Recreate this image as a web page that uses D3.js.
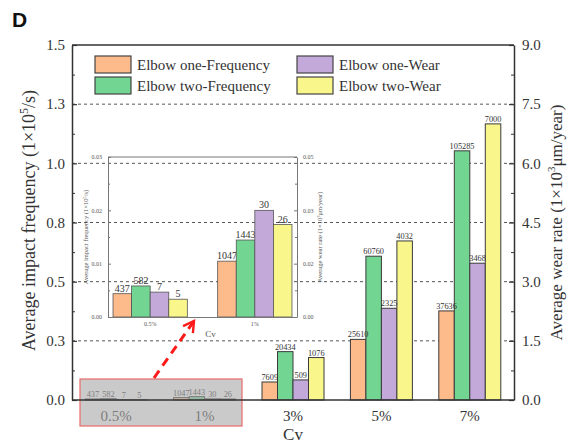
<!DOCTYPE html>
<html>
<head>
<meta charset="utf-8">
<script src="https://cdn.jsdelivr.net/npm/d3@7"></script>
<style>
  html, body { margin: 0; padding: 0; background: #fff; }
  svg { display: block; font-family: "Liberation Serif", "Times New Roman", serif; }
</style>
</head>
<body>
<svg id="chart" width="569" height="443"></svg>
<script>
// Cv categories and series (frequency in counts/s, wear rate in μm/year)
const categories = ["0.5%", "1%", "3%", "5%", "7%"];
const seriesNames = ["Elbow one-Frequency", "Elbow two-Frequency", "Elbow one-Wear", "Elbow two-Wear"];
const seriesColors = ["#fdbb8c", "#72d592", "#c2a9da", "#f9f78c"];
const elbowOneFrequency = [437, 1047, 7609, 25610, 37636];
const elbowTwoFrequency = [582, 1443, 20434, 60760, 105285];
const elbowOneWear = [7, 30, 509, 2325, 3468];
const elbowTwoWear = [5, 26, 1076, 4032, 7000];

// Axis ticks
const leftTicks = [0, 0.25, 0.5, 0.75, 1.0, 1.25, 1.5];
const leftTickLabels = ["0.0", "0.3", "0.5", "0.8", "1.0", "1.3", "1.5"];
const rightTicks = [0, 1.5, 3, 4.5, 6, 7.5, 9];
const rightTickLabels = ["0.0", "1.5", "3.0", "4.5", "6.0", "7.5", "9.0"];
const insetLeftTicks = [0, 0.01, 0.02, 0.03];
const insetLeftTickLabels = ["0.00", "0.01", "0.02", "0.03"];
const insetRightTicks = [0, 0.015, 0.03, 0.045];
const insetRightTickLabels = ["0.00", "0.02", "0.03", "0.05"];
const insetCategories = categories.slice(0, 2);

// Each series: values, which axis it uses, and the unit divisor
const series = [
  { name: seriesNames[0], values: elbowOneFrequency, axis: "freq", color: seriesColors[0] },
  { name: seriesNames[1], values: elbowTwoFrequency, axis: "freq", color: seriesColors[1] },
  { name: seriesNames[2], values: elbowOneWear, axis: "wear", color: seriesColors[2] },
  { name: seriesNames[3], values: elbowTwoWear, axis: "wear", color: seriesColors[3] }
];

const svg = d3.select("#chart");
const L = 72, R = 514, T = 45, B = 400;
const axisColor = "#333";

const x = d3.scaleBand().domain(categories).range([L, R]).padding(0);
const xInner = d3.scaleBand().domain(seriesNames).range([-31, 31]).padding(0);
const yF = d3.scaleLinear().domain([0, 1.5]).range([B, T]);
const yW = d3.scaleLinear().domain([0, 9]).range([B, T]);
const yOf = s => s.axis === "freq" ? (v => yF(v / 1e5)) : (v => yW(v / 1e3));

// Dashed grid lines
svg.append("g").selectAll("line")
  .data(leftTicks.slice(1, -1))
  .join("line")
  .attr("x1", L).attr("x2", R)
  .attr("y1", d => yF(d)).attr("y2", d => yF(d))
  .attr("stroke", "#555").attr("stroke-width", 1)
  .attr("stroke-dasharray", "3,3");

// Bars
const barG = svg.append("g");
series.forEach(s => {
  const yS = yOf(s);
  barG.append("g").selectAll("rect")
    .data(s.values.map((v, i) => ({ v, c: categories[i] })))
    .join("rect")
    .attr("x", d => x(d.c) + x.bandwidth() / 2 + xInner(s.name))
    .attr("width", xInner.bandwidth())
    .attr("y", d => yS(d.v))
    .attr("height", d => B - yS(d.v))
    .attr("fill", s.color)
    .attr("stroke", "#3a3a3a").attr("stroke-width", 1);
});

// Value labels
series.forEach(s => {
  const yS = yOf(s);
  barG.append("g").selectAll("text")
    .data(s.values.map((v, i) => ({ v, c: categories[i] })))
    .join("text")
    .attr("x", d => x(d.c) + x.bandwidth() / 2 + xInner(s.name) + xInner.bandwidth() / 2)
    .attr("y", d => yS(d.v) - 2)
    .attr("text-anchor", "middle")
    .attr("font-size", 8.3)
    .attr("fill", "#333")
    .text(d => d.v);
});

// Bottom axis labels and title
const xAxis = svg.append("g").attr("transform", `translate(0,${B})`)
  .call(d3.axisBottom(x).tickSize(0).tickPadding(10));
xAxis.select(".domain").remove();
xAxis.selectAll("text").attr("font-size", 15).attr("fill", "#333")
  .attr("font-family", "Liberation Serif, serif");

svg.append("text").attr("x", (L + R) / 2).attr("y", 440)
  .attr("text-anchor", "middle").attr("font-size", 17).attr("fill", "#333")
  .text("Cv");

// Highlight box around the small categories
svg.append("rect")
  .attr("x", 80).attr("y", 379).attr("width", 162).attr("height", 47)
  .attr("fill", "#a9a9a9").attr("fill-opacity", 0.62)
  .attr("stroke", "#e86a6a").attr("stroke-width", 1.2);

// Left axis
const leftAxis = svg.append("g").attr("transform", `translate(${L},0)`)
  .call(d3.axisLeft(yF).tickValues(leftTicks).tickFormat((d, i) => leftTickLabels[i])
    .tickSizeInner(-5).tickSizeOuter(0).tickPadding(7));
leftAxis.select(".domain").attr("stroke", axisColor).attr("stroke-width", 1.5);
leftAxis.selectAll(".tick line").attr("stroke", axisColor).attr("stroke-width", 1.2);
leftAxis.selectAll("text").attr("font-size", 15).attr("fill", "#333")
  .attr("font-family", "Liberation Serif, serif");
svg.append("g").attr("transform", `translate(${L},0)`)
  .call(d3.axisLeft(yF).tickValues(d3.range(0.125, 1.5, 0.25)).tickFormat("").tickSizeInner(-3).tickSizeOuter(0))
  .call(g => g.select(".domain").remove())
  .selectAll("line").attr("stroke", axisColor);

// Right axis
const rightAxis = svg.append("g").attr("transform", `translate(${R},0)`)
  .call(d3.axisRight(yW).tickValues(rightTicks).tickFormat((d, i) => rightTickLabels[i])
    .tickSizeInner(-5).tickSizeOuter(0).tickPadding(8));
rightAxis.select(".domain").attr("stroke", axisColor).attr("stroke-width", 1.5);
rightAxis.selectAll(".tick line").attr("stroke", axisColor).attr("stroke-width", 1.2);
rightAxis.selectAll("text").attr("font-size", 15).attr("fill", "#333")
  .attr("font-family", "Liberation Serif, serif");
svg.append("g").attr("transform", `translate(${R},0)`)
  .call(d3.axisRight(yW).tickValues(d3.range(0.75, 9, 1.5)).tickFormat("").tickSizeInner(-3).tickSizeOuter(0))
  .call(g => g.select(".domain").remove())
  .selectAll("line").attr("stroke", axisColor);

// Top and bottom frame lines
svg.append("line").attr("x1", L).attr("x2", R).attr("y1", T).attr("y2", T)
  .attr("stroke", axisColor).attr("stroke-width", 1.5);
svg.append("line").attr("x1", L).attr("x2", R).attr("y1", B).attr("y2", B)
  .attr("stroke", axisColor).attr("stroke-width", 1.5);

// Axis titles
svg.append("text")
  .attr("transform", `translate(35,${(T + B) / 2 - 2}) rotate(-90)`)
  .attr("text-anchor", "middle").attr("font-size", 18).attr("fill", "#333")
  .html('Average impact frequency (1×10<tspan dy="-7" font-size="12">5</tspan><tspan dy="7">/s)</tspan>');
svg.append("text")
  .attr("transform", `translate(562,${(T + B) / 2}) rotate(-90)`)
  .attr("text-anchor", "middle").attr("font-size", 17).attr("fill", "#333")
  .html('Average wear rate (1×10<tspan dy="-7" font-size="11">3</tspan><tspan dy="7">μm/year)</tspan>');

// Panel letter
svg.append("text").attr("x", 12).attr("y", 27)
  .attr("font-family", "Liberation Sans, Arial, sans-serif")
  .attr("font-weight", "bold").attr("font-size", 21).attr("fill", "#111")
  .text("D");

// Legend
const legendItems = seriesNames.map((n, i) => ({
  name: n, color: seriesColors[i],
  col: i < 2 ? 0 : 1, row: i % 2
}));
const legend = svg.append("g");
const lg = legend.selectAll("g").data(legendItems).join("g")
  .attr("transform", d => `translate(${d.col ? 297 : 95},${d.row ? 77 : 56})`);
lg.append("rect").attr("width", 36).attr("height", 17)
  .attr("fill", d => d.color).attr("stroke", "#444").attr("stroke-width", 1.2);
lg.append("text").attr("x", 42).attr("y", 14)
  .attr("font-size", 15).attr("fill", "#333")
  .text(d => d.name);

// Inset: zoom on the 0.5% and 1% groups
const iL = 108, iR = 297, iT = 157, iB = 317;
const xi = d3.scaleBand().domain(insetCategories).range([iL, iR]).paddingInner(0.29).paddingOuter(0.048);
const xiInner = d3.scaleBand().domain(seriesNames).range([0, xi.bandwidth()]).padding(0);
const yFi = d3.scaleLinear().domain([0, 0.03]).range([iB, iT]);
const yWi = d3.scaleLinear().domain([0, 0.045]).range([iB, iT]);
const yOfInset = s => s.axis === "freq" ? (v => yFi(v / 1e5)) : (v => yWi(v / 1e3));
const inset = svg.append("g");
const insetColor = "#777";

series.forEach(s => {
  const yS = yOfInset(s);
  const d = s.values.slice(0, 2).map((v, i) => ({ v, c: insetCategories[i] }));
  inset.append("g").selectAll("rect").data(d).join("rect")
    .attr("x", e => xi(e.c) + xiInner(s.name))
    .attr("width", xiInner.bandwidth())
    .attr("y", e => yS(e.v))
    .attr("height", e => iB - yS(e.v))
    .attr("fill", s.color).attr("stroke", "#555").attr("stroke-width", 0.8);
  inset.append("g").selectAll("text").data(d).join("text")
    .attr("x", e => xi(e.c) + xiInner(s.name) + xiInner.bandwidth() / 2)
    .attr("y", e => yS(e.v) - 2)
    .attr("text-anchor", "middle").attr("font-size", 10).attr("fill", "#333")
    .text(e => e.v);
});

const iLeft = inset.append("g").attr("transform", `translate(${iL},0)`)
  .call(d3.axisLeft(yFi).tickValues(insetLeftTicks).tickFormat((d, i) => insetLeftTickLabels[i])
    .tickSizeInner(-3).tickSizeOuter(0).tickPadding(6));
const iRight = inset.append("g").attr("transform", `translate(${iR},0)`)
  .call(d3.axisRight(yWi).tickValues(insetRightTicks).tickFormat((d, i) => insetRightTickLabels[i])
    .tickSizeInner(-3).tickSizeOuter(0).tickPadding(6));
const iBottom = inset.append("g").attr("transform", `translate(0,${iB})`)
  .call(d3.axisBottom(xi).tickSize(0).tickPadding(5));
[iLeft, iRight, iBottom].forEach(g => {
  g.select(".domain").attr("stroke", insetColor).attr("stroke-width", 1);
  g.selectAll(".tick line").attr("stroke", insetColor);
  g.selectAll("text").attr("font-size", 6).attr("fill", "#555")
    .attr("font-family", "Liberation Serif, serif");
});
inset.append("g").attr("transform", `translate(${iL},0)`)
  .call(d3.axisLeft(yFi).tickValues([0.005, 0.015, 0.025]).tickFormat("").tickSizeInner(-2).tickSizeOuter(0))
  .call(g => g.select(".domain").remove())
  .selectAll("line").attr("stroke", insetColor);
inset.append("g").attr("transform", `translate(${iR},0)`)
  .call(d3.axisRight(yWi).tickValues([0.0075, 0.0225, 0.0375]).tickFormat("").tickSizeInner(-2).tickSizeOuter(0))
  .call(g => g.select(".domain").remove())
  .selectAll("line").attr("stroke", insetColor);
inset.append("line").attr("x1", iL).attr("x2", iR).attr("y1", iT).attr("y2", iT)
  .attr("stroke", insetColor).attr("stroke-width", 1);

inset.append("text").attr("x", (iL + iR) / 2 + 8).attr("y", 337)
  .attr("text-anchor", "middle").attr("font-size", 9).attr("fill", "#555").text("Cv");
inset.append("text")
  .attr("transform", `translate(88,${(iT + iB) / 2}) rotate(-90)`)
  .attr("text-anchor", "middle").attr("font-size", 6.5).attr("fill", "#555")
  .html('Average impact frequency (1×10<tspan dy="-2" font-size="4.5">5</tspan><tspan dy="2">/s)</tspan>');
inset.append("text")
  .attr("transform", `translate(322,${(iT + iB) / 2}) rotate(-90)`)
  .attr("text-anchor", "middle").attr("font-size", 6.5).attr("fill", "#555")
  .html('Average wear rate (1×10<tspan dy="-2" font-size="4.5">3</tspan><tspan dy="2">μm/year)</tspan>');

// Red dashed arrow from the highlight box to the inset
const defs = svg.append("defs");
defs.append("marker").attr("id", "arrowHead")
  .attr("viewBox", "0 0 10 10").attr("refX", 8).attr("refY", 5)
  .attr("markerWidth", 5).attr("markerHeight", 5).attr("orient", "auto")
  .append("path").attr("d", "M1,1 L8,5 L1,9")
  .attr("fill", "none").attr("stroke", "#ff1a1a").attr("stroke-width", 1.6);
svg.append("line")
  .attr("x1", 154).attr("y1", 378).attr("x2", 194).attr("y2", 321)
  .attr("stroke", "#ff1a1a").attr("stroke-width", 3)
  .attr("stroke-dasharray", "9,6")
  .attr("marker-end", "url(#arrowHead)");
</script>
</body>
</html>
